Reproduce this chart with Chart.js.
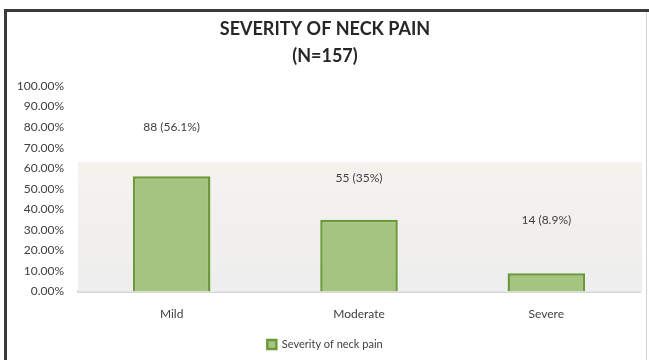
<!DOCTYPE html>
<html>
<head>
<meta charset="utf-8">
<script src="https://cdn.jsdelivr.net/npm/chart.js@4"></script>
<style>
  html, body { margin: 0; padding: 0; background: #fff; }
  #wrap { width: 649px; height: 360px; }
</style>
</head>
<body>
<div id="wrap"><canvas id="myChart" width="649" height="360"></canvas></div>
<script>
// chart data
var categories = ["Mild", "Moderate", "Severe"];
var counts = [88, 55, 14];
var percents = [56.1, 35, 8.9];
var yTicks = [0, 10, 20, 30, 40, 50, 60, 70, 80, 90, 100];
var seriesName = "Severity of neck pain";

// frame round the whole picture
const framePlugin = {
    id: "frame",
    beforeDraw(chart) {
        const c = chart.ctx;
        c.save();
        c.fillStyle = "#ffffff";
        c.fillRect(0, 0, chart.width, chart.height);
        c.strokeStyle = "#d4d4d4";
        c.lineWidth = 1;
        c.beginPath();
        c.moveTo(646.5, 11);
        c.lineTo(646.5, chart.height);
        c.stroke();
        c.strokeStyle = "#3a3a3a";
        c.lineWidth = 3;
        c.beginPath();
        c.moveTo(4, 10.5);
        c.lineTo(649, 10.5);
        c.moveTo(5.5, 9);
        c.lineTo(5.5, chart.height);
        c.stroke();
        c.restore();
    }
};

// light panel behind the bars
const panelPlugin = {
    id: "panel",
    beforeDatasetsDraw(chart, args, opts) {
        const c = chart.ctx;
        const a = chart.chartArea;
        const y = chart.scales.y;
        const top = y.getPixelForValue(opts.level);
        const bottom = y.getPixelForValue(0);
        const g = c.createLinearGradient(0, top, 0, bottom);
        g.addColorStop(0, "#f5f2ee");
        g.addColorStop(1, "#eeeeee");
        c.save();
        c.fillStyle = g;
        c.fillRect(a.left, top, a.right - a.left + 2, bottom - top);
        c.restore();
    }
};

// "n (p%)" labels above the bars
const labelPlugin = {
    id: "barLabels",
    afterDatasetsDraw(chart, args, opts) {
        const c = chart.ctx;
        const meta = chart.getDatasetMeta(0);
        c.save();
        c.font = "12px Lato";
        c.fillStyle = "#404040";
        c.textAlign = "center";
        c.textBaseline = "middle";
        meta.data.forEach(function(bar, i) {
            const y = chart.scales.y.getPixelForValue(opts.levels[i]);
            c.fillText(counts[i] + " (" + percents[i] + "%)", bar.x, y);
        });
        c.restore();
    }
};

const ctx = document.getElementById("myChart").getContext("2d");
const myChart = new Chart(ctx, {
    type: "bar",
    data: {
        labels: categories,
        datasets: [{
            label: seriesName,
            data: percents,
            backgroundColor: "#a4c47f",
            borderColor: "#6a9a3a",
            borderWidth: 2.5,
            barPercentage: 0.414,
            categoryPercentage: 1
        }]
    },
    options: {
        responsive: false,
        animation: false,
        layout: { padding: { left: 10, right: 9, top: 5, bottom: 0 } },
        plugins: {
            title: {
                display: true,
                text: ["SEVERITY OF NECK PAIN", "(N=157)"],
                color: "#262626",
                font: { family: "Lato", size: 18, weight: "bold", lineHeight: 1.5 },
                padding: { top: 11, bottom: 16 }
            },
            legend: {
                position: "bottom",
                labels: {
                    color: "#404040",
                    font: { family: "Lato", size: 11 },
                    boxWidth: 9,
                    boxHeight: 9,
                    padding: 3
                }
            },
            tooltip: { enabled: false },
            panel: { level: 63 },
            barLabels: { levels: [80, 55, 35] }
        },
        scales: {
            x: {
                grid: { display: false, drawTicks: false },
                border: { color: "#d6d6d6", width: 3 },
                ticks: { color: "#404040", font: { family: "Lato", size: 12 }, padding: 15 }
            },
            y: {
                min: 0,
                max: 100,
                afterFit: function(scale) { scale.width = 68; },
                afterBuildTicks: function(scale) {
                    scale.ticks = yTicks.map(function(v) { return { value: v }; });
                },
                grid: { display: false, drawTicks: false },
                border: { display: false },
                ticks: {
                    color: "#404040",
                    font: { family: "Lato", size: 12 },
                    padding: 14,
                    callback: function(v) { return v.toFixed(2) + "%"; }
                }
            }
        }
    },
    plugins: [framePlugin, panelPlugin, labelPlugin]
});
</script>
</body>
</html>
